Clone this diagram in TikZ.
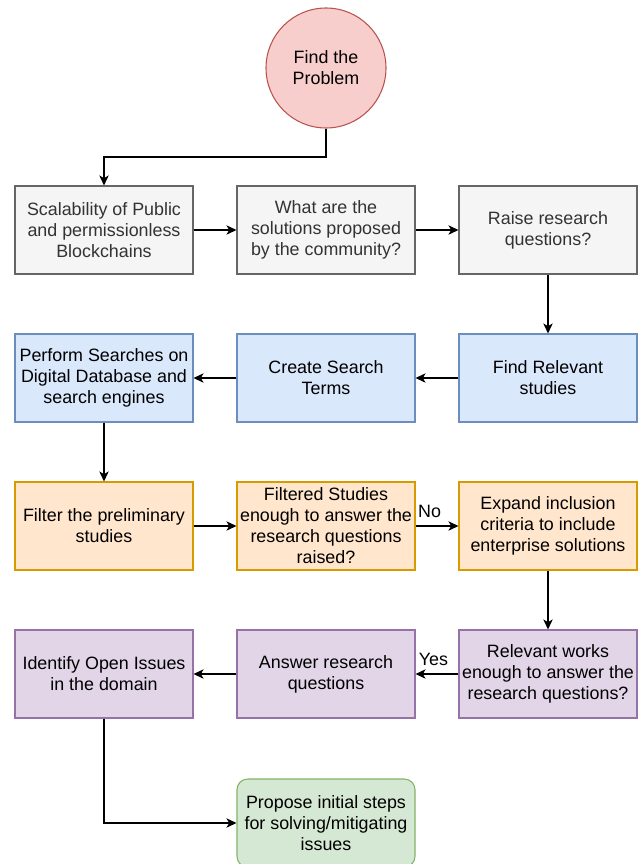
\documentclass[tikz,border=0pt]{standalone}
\usepackage{fontspec}
\setmainfont{Liberation Sans}
\usetikzlibrary{arrows.meta}
\definecolor{grayfill}{HTML}{F5F5F5}\definecolor{graydraw}{HTML}{666666}\definecolor{graytext}{HTML}{333333}
\definecolor{bluefill}{HTML}{DAE8FC}\definecolor{bluedraw}{HTML}{6C8EBF}
\definecolor{orangefill}{HTML}{FFE6CC}\definecolor{orangedraw}{HTML}{D79B00}
\definecolor{purplefill}{HTML}{E1D5E7}\definecolor{purpledraw}{HTML}{9673A6}
\definecolor{greenfill}{HTML}{D5E8D4}\definecolor{greendraw}{HTML}{82B366}
\definecolor{redfill}{HTML}{F8CECC}\definecolor{reddraw}{HTML}{B85450}
\begin{document}
\begin{tikzpicture}[x=0.75pt,y=-0.75pt,
  every node/.style={font=\fontsize{13.4}{15.8}\selectfont},
  box/.style={rectangle,draw,line width=0.8pt,minimum width=178*0.75pt,minimum height=88*0.75pt,align=center,inner sep=0pt},
  graybox/.style={box,fill=grayfill,draw=graydraw,text=graytext},
  bluebox/.style={box,fill=bluefill,draw=bluedraw},
  orangebox/.style={box,fill=orangefill,draw=orangedraw},
  purplebox/.style={box,fill=purplefill,draw=purpledraw},
  greenbox/.style={box,fill=greenfill,draw=greendraw,rounded corners=8pt},
  flow/.style={draw=black,line width=1pt,-{Stealth[length=7.5pt,width=7pt,inset=2pt]}},
  lbl/.style={inner sep=0pt}
]
\useasboundingbox (0,0) rectangle (637,864);
% start
\node[circle,draw=reddraw,fill=redfill,line width=0.8pt,minimum size=120*0.75pt,align=center,inner sep=0pt] (start) at (326,68) {Find the\\Problem};
% row 1
\node[graybox] (scal) at (104,230) {Scalability of Public\\and permissionless\\Blockchains};
\node[graybox] (sol) at (326,230) {What are the\\solutions proposed\\by the community?};
\node[graybox] (raise) at (548,230) {Raise research\\questions?};
% row 2
\node[bluebox] (find) at (548,378) {Find Relevant\\studies};
\node[bluebox] (terms) at (326,378) {Create Search\\Terms};
\node[bluebox] (search) at (104,378) {Perform Searches on\\Digital Database and\\search engines};
% row 3
\node[orangebox] (filter) at (104,526) {Filter the preliminary\\studies};
\node[orangebox] (enough) at (326,526) {Filtered Studies\\enough to answer the\\research questions\\raised?};
\node[orangebox] (expand) at (548,526) {Expand inclusion\\criteria to include\\enterprise solutions};
% row 4
\node[purplebox] (works) at (548,674) {Relevant works\\enough to answer the\\research questions?};
\node[purplebox] (answer) at (326,674) {Answer research\\questions};
\node[purplebox] (open) at (104,674) {Identify Open Issues\\in the domain};
% end
\node[greenbox] (propose) at (326,823) {Propose initial steps\\for solving/mitigating\\issues};
% connectors
\coordinate (c1) at (326,157);
\coordinate (c2) at (104,157);
\draw[flow] (start.south) -- (c1) -- (c2) -- (scal.north);
\draw[flow] (scal) -- (sol);
\draw[flow] (sol) -- (raise);
\draw[flow] (raise) -- (find);
\draw[flow] (find) -- (terms);
\draw[flow] (terms) -- (search);
\draw[flow] (search) -- (filter);
\draw[flow] (filter) -- (enough);
\draw[flow] (enough) -- (expand) node[lbl,pos=0.0,anchor=south west,xshift=1.5pt,yshift=6pt] {No};
\draw[flow] (expand) -- (works);
\draw[flow] (works) -- (answer) node[lbl,pos=1.0,anchor=south west,xshift=2pt,yshift=6pt] {Yes};
\draw[flow] (answer) -- (open);
\coordinate (c3) at (104,823);
\draw[flow] (open.south) -- (c3) -- (propose.west);
\end{tikzpicture}
\end{document}
